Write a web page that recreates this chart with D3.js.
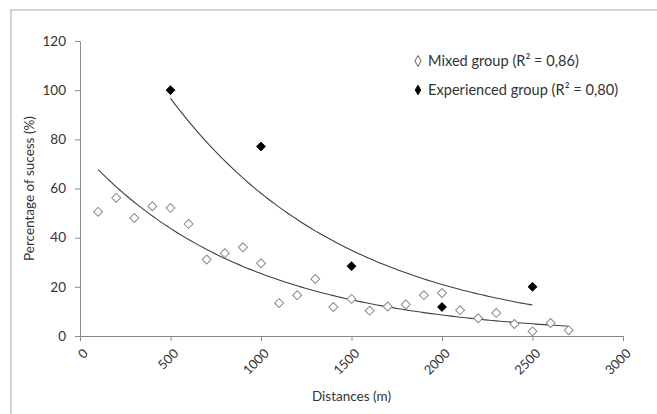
<!DOCTYPE html>
<html>
<head>
<meta charset="utf-8">
<script src="https://cdn.jsdelivr.net/npm/d3@7"></script>
<style>
	body { margin: 0; background: #fff; }
	text { font-family: Lato, "Open Sans", sans-serif; fill: #333; }
</style>
</head>
<body>
<div class="chart"></div>
<script>
// values
const mixedX = [100, 200, 300, 400, 500, 600, 700, 800, 900, 1000, 1100, 1200, 1300, 1400,
	1500, 1600, 1700, 1800, 1900, 2000, 2100, 2200, 2300, 2400, 2500, 2600, 2700];
const mixedY = [50.5, 56.2, 48, 52.8, 52.1, 45.6, 31.1, 33.7, 36.1, 29.6, 13.4, 16.6, 23.2, 11.8,
	15.1, 10.3, 12, 12.8, 16.6, 17.5, 10.5, 7.2, 9.4, 4.9, 1.9, 5.3, 2.3];
const expX = [500, 1000, 1500, 2000, 2500];
const expY = [100, 77.1, 28.4, 11.8, 20];
const xTicks = [0, 500, 1000, 1500, 2000, 2500, 3000];
const yTicks = [0, 20, 40, 60, 80, 100, 120];
const legendLabels = ["Mixed group (R\u00b2 = 0,86)", "Experienced group (R\u00b2 = 0,80)"];

!function () {
	const width = 657, height = 414;
	const margin = { top: 41, right: 34, bottom: 78, left: 80 };

	const x = d3.scaleLinear()
		.domain([0, 3000])
		.range([margin.left, width - margin.right]);

	const y = d3.scaleLinear()
		.domain([0, 120])
		.range([height - margin.bottom, margin.top]);

	const svg = d3.select(".chart")
		.append("svg")
		.attr("width", width)
		.attr("height", height);

	// chart area border
	svg.append("rect")
		.attr("x", 11).attr("y", 10)
		.attr("width", 700).attr("height", 450)
		.attr("fill", "none")
		.attr("stroke", "#c6c6c6")
		.attr("stroke-width", 1.5);

	// exponential trendline, Excel style: least squares on ln(y)
	function expFit(xs, ys) {
		const ly = ys.map(Math.log);
		const mx = d3.mean(xs), my = d3.mean(ly);
		const b = d3.sum(xs, (v, i) => (v - mx) * (ly[i] - my)) / d3.sum(xs, v => (v - mx) ** 2);
		const a = Math.exp(my - b * mx);
		return v => a * Math.exp(b * v);
	}

	const line = d3.line().x(d => x(d[0])).y(d => y(d[1]));

	[[mixedX, mixedY], [expX, expY]].forEach(([xs, ys]) => {
		const f = expFit(xs, ys);
		const [lo, hi] = d3.extent(xs);
		const pts = d3.range(lo, hi + 1, 20).map(v => [v, f(v)]);
		svg.append("path")
			.attr("d", line(pts))
			.attr("fill", "none")
			.attr("stroke", "#404040")
			.attr("stroke-width", 1.1);
	});

	// axes
	svg.append("g")
		.attr("transform", `translate(0,${y(0)})`)
		.call(d3.axisBottom(x).tickValues(xTicks).tickFormat(d3.format("d")).tickSize(5).tickSizeOuter(0))
		.call(g => g.selectAll("line, path").attr("stroke", "#8a8a8a"))
		.call(g => g.selectAll("text")
			.attr("text-anchor", "end")
			.attr("font-size", 13)
			.attr("transform", "translate(5,15) rotate(-45)")
			.attr("y", 0).attr("dy", "0.35em"));

	svg.append("g")
		.attr("transform", `translate(${x(0)},0)`)
		.call(d3.axisLeft(y).tickValues(yTicks).tickSize(5).tickSizeOuter(0).tickPadding(9))
		.call(g => g.selectAll("line, path").attr("stroke", "#8a8a8a"))
		.call(g => g.selectAll("text").attr("font-size", 13.5));

	svg.selectAll(".tick text").attr("fill", "#333").style("font-family", "Lato, sans-serif");

	// markers
	const diamond = d3.symbol(d3.symbolSquare, 40);

	svg.append("g")
		.selectAll("path")
		.data(mixedX.map((v, i) => [v, mixedY[i]]))
		.join("path")
		.attr("d", diamond)
		.attr("transform", d => `translate(${x(d[0])},${y(d[1])}) rotate(45)`)
		.attr("fill", "#fff")
		.attr("stroke", "#8a8a8a")
		.attr("stroke-width", 1);

	svg.append("g")
		.selectAll("path")
		.data(expX.map((v, i) => [v, expY[i]]))
		.join("path")
		.attr("d", diamond)
		.attr("transform", d => `translate(${x(d[0])},${y(d[1])}) rotate(45)`)
		.attr("fill", "#000")
		.attr("stroke", "#000")
		.attr("stroke-width", 0.8);

	// axis titles
	svg.append("text")
		.attr("x", x(1500)).attr("y", 401)
		.attr("text-anchor", "middle")
		.attr("font-size", 13.5)
		.text("Distances (m)");

	svg.append("text")
		.attr("transform", `translate(34,${(y(0) + y(120)) / 2}) rotate(-90)`)
		.attr("text-anchor", "middle")
		.attr("font-size", 13.5)
		.text("Percentage of sucess (%)");

	// legend
	const legend = svg.append("g");
	legendLabels.forEach((label, i) => {
		const ly = 61 + i * 29;
		legend.append("path")
			.attr("d", d3.symbol(d3.symbolDiamond, i === 0 ? 34 : 26)())
			.attr("transform", `translate(418,${ly})`)
			.attr("fill", i === 0 ? "#fff" : "#000")
			.attr("stroke", i === 0 ? "#606060" : "#000")
			.attr("stroke-width", 1);
		legend.append("text")
			.attr("x", 428).attr("y", ly)
			.attr("dy", "0.35em")
			.attr("font-size", 14.6)
			.text(label);
	});
}();
</script>
</body>
</html>
